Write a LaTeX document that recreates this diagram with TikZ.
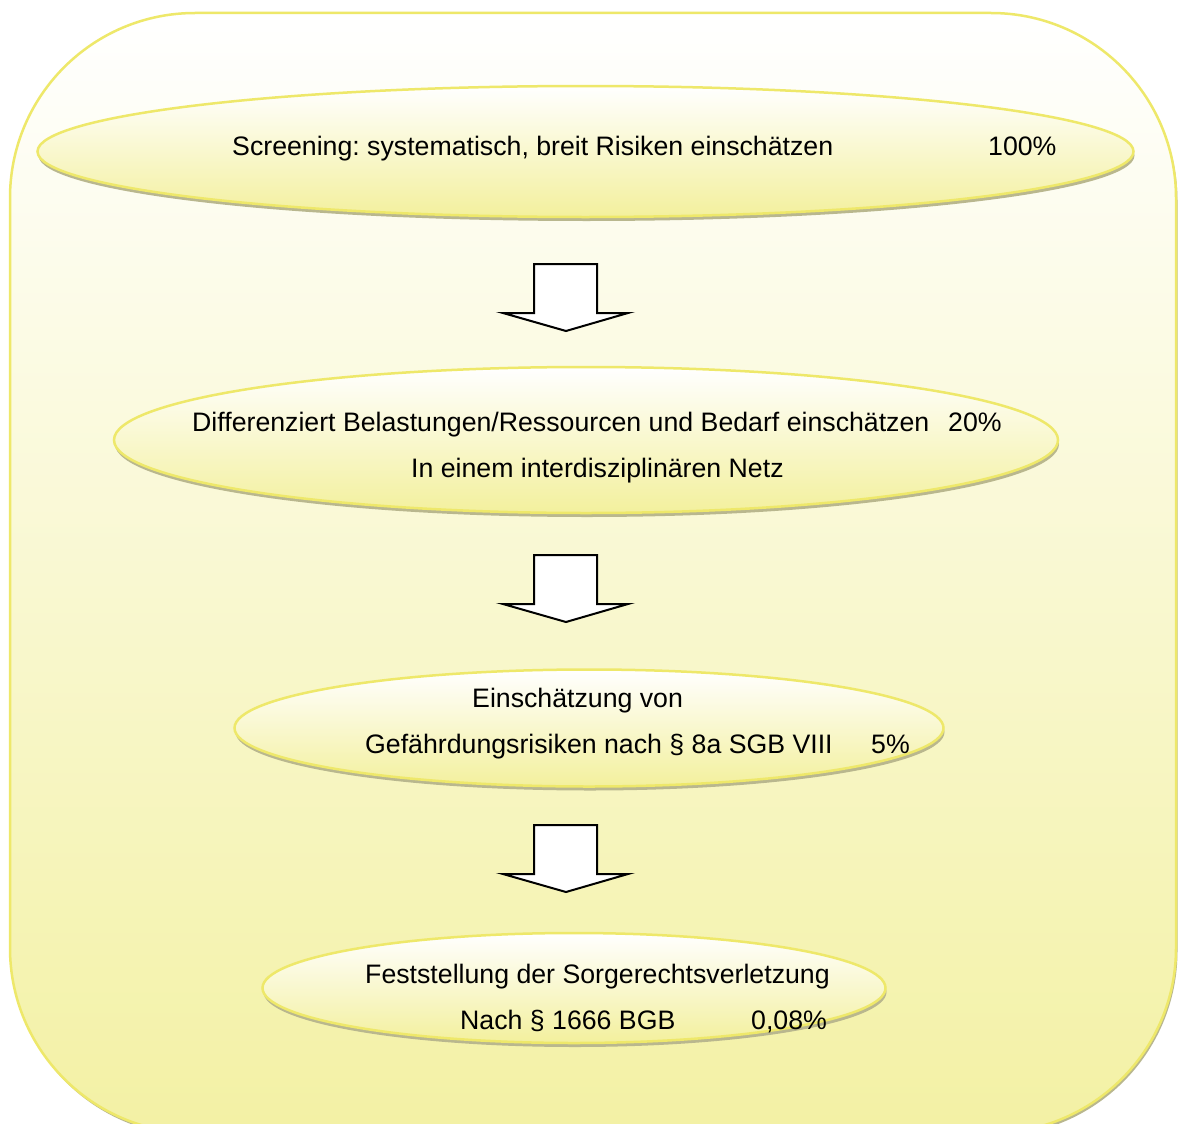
\documentclass[tikz,border=0pt]{standalone}
\usepackage{fontspec}
\setmainfont{Liberation Sans}
\usepackage{tikz}
\usetikzlibrary{shadows,shapes.geometric,positioning,calc}
\definecolor{rimyellow}{HTML}{EEE86A}
\definecolor{deepyellow}{HTML}{F3F09D}
\definecolor{frameyellow}{HTML}{F3F1A4}
\definecolor{shadowgray}{HTML}{B9B78E}
\frenchspacing

\tikzset{
  frame/.style={draw=rimyellow, line width=2.5pt, rounded corners=185pt,
    top color=white, bottom color=frameyellow,
    drop shadow={shadow xshift=1.5pt, shadow yshift=-3pt, fill=shadowgray, opacity=1}},
  bubble/.style={ellipse, draw=rimyellow, line width=2.5pt, inner sep=0pt,
    top color=white, bottom color=deepyellow,
    drop shadow={shadow xshift=1pt, shadow yshift=-4pt, fill=shadowgray, opacity=1}},
  label/.style={anchor=base west, inner sep=0pt, font=\fontsize{26.7}{30}\selectfont},
  blockarrow/.style={draw=black, line width=2pt, fill=white, line join=miter}
}

\begin{document}
\begin{tikzpicture}[x=1pt, y=-1pt]
  \clip (0,0) rectangle (1178,1124);
  \fill [white] (0,0) rectangle (1178,1124);
  \path [frame] (10,13) rectangle (1176,1133);

  % the four steps
  \node [bubble, minimum width=1096pt, minimum height=131pt] (screen) at (585.5,151.5) {};
  \node [bubble, minimum width=944pt, minimum height=146pt] (diff) at (586,440) {};
  \node [bubble, minimum width=709pt, minimum height=117pt] (risk) at (589,728) {};
  \node [bubble, minimum width=623pt, minimum height=110pt] (court) at (574,988) {};

  \node [label] (screentxt) at (232,155) {Screening: systematisch, breit Risiken einschätzen};
  \node [label] (screenpct) at (988,155) {100\%};

  \node [label] (difftxt) at (192,431) {Differenziert Belastungen/Ressourcen und Bedarf einschätzen};
  \node [label] (diffpct) at (948,431) {20\%};
  \node [label] (diffnet) at (411,477) {In einem interdisziplinären Netz};

  \node [label] (risktxt) at (472,707) {Einschätzung von};
  \node [label] (risklaw) at (365,753) {Gefährdungsrisiken nach § 8a SGB VIII};
  \node [label] (riskpct) at (871,753) {5\%};

  \node [label] (courttxt) at (365,983) {Feststellung der Sorgerechtsverletzung};
  \node [label] (courtlaw) at (460,1029) {Nach § 1666 BGB};
  \node [label] (courtpct) at (751,1029) {0,08\%};

  % block arrows between the steps
  \foreach \ay [count=\i] in {264,555,825} {
    \coordinate (a\i) at (566,\ay);
    \draw [blockarrow] (a\i) ++(-32,0) -- ++(63,0) -- ++(0,49) -- ++(31,0)
      -- ++(-62,18) -- ++(-63,-18) -- ++(31,0) -- cycle;
  }
\end{tikzpicture}
\end{document}
